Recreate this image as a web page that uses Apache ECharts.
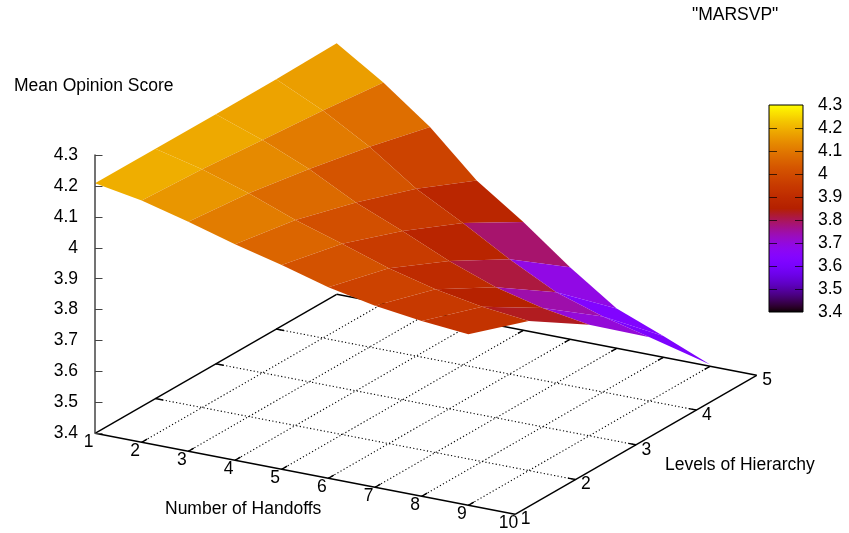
<!DOCTYPE html>
<html><head><meta charset="utf-8">
<style>html,body{margin:0;padding:0;background:#fff}#c{width:849px;height:533px}</style>
<script src="https://cdn.jsdelivr.net/npm/echarts@6/dist/echarts.min.js"></script>
</head><body><div id="c"></div>
<script>
const handoffs = [1,2,3,4,5,6,7,8,9];
const handoffTicks = [1,2,3,4,5,6,7,8,9,10];
const levelTicks = [1,2,3,4,5];
const scoreLevel1 = [4.209,4.182,4.142,4.099,4.061,4.018,3.987,3.967,3.953];
const scoreLevel2 = [4.208,4.171,4.122,4.065,4.017,3.967,3.928,3.901,3.884];
const scoreLevel3 = [4.207,4.153,4.088,4.009,3.946,3.878,3.822,3.784,3.759];
const scoreLevel4 = [4.208,4.136,4.048,3.941,3.859,3.771,3.694,3.644,3.606];
const scoreLevel5 = [4.212,4.114,3.999,3.855,3.750,3.633,3.529,3.469,3.406];
const scores = [scoreLevel1,scoreLevel2,scoreLevel3,scoreLevel4,scoreLevel5];
// colour value of each facet
const colourBand12 = [4.192,4.154,4.107,4.061,4.016,3.975,3.946,3.926];
const colourBand23 = [4.185,4.134,4.071,4.009,3.952,3.899,3.859,3.832];
const colourBand34 = [4.176,4.106,4.022,3.945,3.875,3.814,3.745,3.705];
const colourBand45 = [4.167,4.080,3.976,3.877,3.787,3.690,3.630,3.615];
const colourBands = [colourBand12,colourBand23,colourBand34,colourBand45];
const colourBarTicks = [3.5,3.6,3.7,3.8,3.9,4.0,4.1,4.2];
const zMin = 3.4, zMax = 4.3;

const FONT = '"Liberation Sans", Arial, sans-serif';
const FS = 17.5;
const H_PX = [46.67, 9], L_PX = [60.42, -34.75], Z_PX = 309.2;

function palette(v){
  const g = Math.max(0, Math.min(1, (v - zMin) / (zMax - zMin)));
  const r = Math.sqrt(g), gg = g*g*g, b = Math.max(0, Math.sin(2*Math.PI*g));
  return `rgb(${Math.round(r*255)},${Math.round(gg*255)},${Math.round(b*255)})`;
}
function project(api,h,l,z){
  const u = (h-1)*H_PX[0] + (l-1)*L_PX[0];
  const zv = z - ((h-1)*H_PX[1] + (l-1)*L_PX[1]) / Z_PX;
  return api.coord([u, zv]);
}
const facets = [];
for (let l = 4; l >= 1; l--) for (let i = 0; i < handoffs.length-1; i++) {
  const a = scores[l-1][i], b = scores[l-1][i+1], c = scores[l][i+1], d = scores[l][i];
  facets.push([handoffs[i], l, a, b, c, d, colourBands[l-1][i]]);
}
const floorLines = [];
levelTicks.forEach(l => floorLines.push([1,l,10,l,(l===1||l===5)?1:0]));
handoffTicks.forEach(h => floorLines.push([h,1,h,5,(h===1||h===10)?1:0]));
const TICK_H = 0.16, TICK_L = 0.09;
levelTicks.slice(1,-1).forEach(l => { floorLines.push([1,l,1+TICK_H,l,1]); floorLines.push([10,l,10-TICK_H,l,1]); });
handoffTicks.slice(1,-1).forEach(h => { floorLines.push([h,1,h,1+TICK_L,1]); floorLines.push([h,5,h,5-TICK_L,1]); });
const floorLabels = [];
handoffTicks.forEach(h => floorLabels.push([h,1,String(h),-6.5,8.5]));
levelTicks.forEach(l => floorLabels.push([10,l,String(l),10.5,5]));

const chart = echarts.init(document.getElementById('c'), null, {renderer:'canvas'});
const cbStops = [];
for (let k=0;k<=60;k++) cbStops.push({offset:k/60,color:palette(zMin+(zMax-zMin)*k/60)});
const hiddenX = (i,max)=>({type:'value',gridIndex:i,min:0,max:max,show:false});
chart.setOption({
  animation:false,
  backgroundColor:'#fff',
  textStyle:{fontFamily:FONT},
  grid:[
    {left:95,top:155,width:662,height:278.3},
    {left:769,top:105,width:34,height:207}
  ],
  xAxis:[hiddenX(0,662),hiddenX(1,34)],
  yAxis:[
    {type:'value',gridIndex:0,min:zMin,max:zMax,interval:0.1,splitLine:{show:false},z:5,
     axisLine:{show:true,onZero:false,lineStyle:{color:'#444',width:1.5}},
     axisTick:{show:true,inside:true,length:7.5,lineStyle:{color:'#444',width:1}},
     axisLabel:{show:true,margin:17,fontSize:FS,color:'#000',fontFamily:FONT,padding:[2,0,0,0]}},
    {type:'value',gridIndex:1,position:'right',min:zMin,max:zMax,interval:0.1,splitLine:{show:false},z:5,
     axisLine:{show:false},axisTick:{show:false},
     axisLabel:{show:true,margin:15,fontSize:FS,color:'#000',fontFamily:FONT,padding:[2,0,0,0]}}
  ],
  series:[
    {type:'custom',name:'floor',xAxisIndex:0,yAxisIndex:0,silent:true,z:1,data:floorLines,
     renderItem(p,api){
       const a=project(api,api.value(0),api.value(1),zMin), b=project(api,api.value(2),api.value(3),zMin);
       const solid=api.value(4)===1;
       return {type:'line',shape:{x1:a[0],y1:a[1],x2:b[0],y2:b[1]},
         style:{stroke:'#000',lineWidth:solid?1.4:1.1,lineDash:solid?null:[1.2,2.3],fill:null}};
     }},
    {type:'custom',name:'floorLabels',xAxisIndex:0,yAxisIndex:0,silent:true,z:1,data:floorLabels.map(d=>[d[0],d[1],0,d[3],d[4]]),
     renderItem(p,api){
       const a=project(api,api.value(0),api.value(1),zMin);
       return {type:'text',style:{x:a[0]+api.value(3),y:a[1]+api.value(4),text:floorLabels[p.dataIndex][2],
         fill:'#000',font:FS+'px '+FONT,align:'center',verticalAlign:'middle'}};
     }},
    {type:'custom',name:'MARSVP',xAxisIndex:0,yAxisIndex:0,silent:true,z:3,data:facets,
     renderItem(p,api){
       const h=api.value(0),l=api.value(1);
       const pts=[project(api,h,l,api.value(2)),project(api,h+1,l,api.value(3)),
                  project(api,h+1,l+1,api.value(4)),project(api,h,l+1,api.value(5))];
       return {type:'polygon',shape:{points:pts},style:{fill:palette(api.value(6))}};
     }},
    {type:'custom',name:'colorbar',xAxisIndex:1,yAxisIndex:1,silent:true,z:2,data:[[0,zMin,34,zMax]],
     renderItem(p,api){
       const a=api.coord([api.value(0),api.value(3)]), b=api.coord([api.value(2),api.value(1)]);
       return {type:'rect',shape:{x:a[0],y:a[1],width:b[0]-a[0],height:b[1]-a[1]},
         style:{fill:new echarts.graphic.LinearGradient(0,1,0,0,cbStops),stroke:'#000',lineWidth:1}};
     }},
    {type:'custom',name:'colorbarTicks',xAxisIndex:1,yAxisIndex:1,silent:true,z:4,data:colourBarTicks.map(t=>[t]),
     renderItem(p,api){
       const t=api.value(0);
       const line=(x0,x1)=>{const a=api.coord([x0,t]),b=api.coord([x1,t]);
         return {type:'line',shape:{x1:a[0],y1:Math.round(a[1])+0.5,x2:b[0],y2:Math.round(b[1])+0.5},
           style:{stroke:'rgba(0,0,0,0.7)',lineWidth:1}};};
       return {type:'group',children:[line(0,8),line(26,34)]};
     }}
  ],
  graphic:[
    {type:'text',left:692,top:6,style:{text:'"MARSVP"',font:FS+'px '+FONT,fill:'#000'}},
    {type:'text',left:14,top:77,style:{text:'Mean Opinion Score',font:FS+'px '+FONT,fill:'#000'}},
    {type:'text',left:165,top:500,style:{text:'Number of Handoffs',font:FS+'px '+FONT,fill:'#000'}},
    {type:'text',left:665,top:456,style:{text:'Levels of Hierarchy',font:FS+'px '+FONT,fill:'#000'}}
  ]
});
</script></body></html>
